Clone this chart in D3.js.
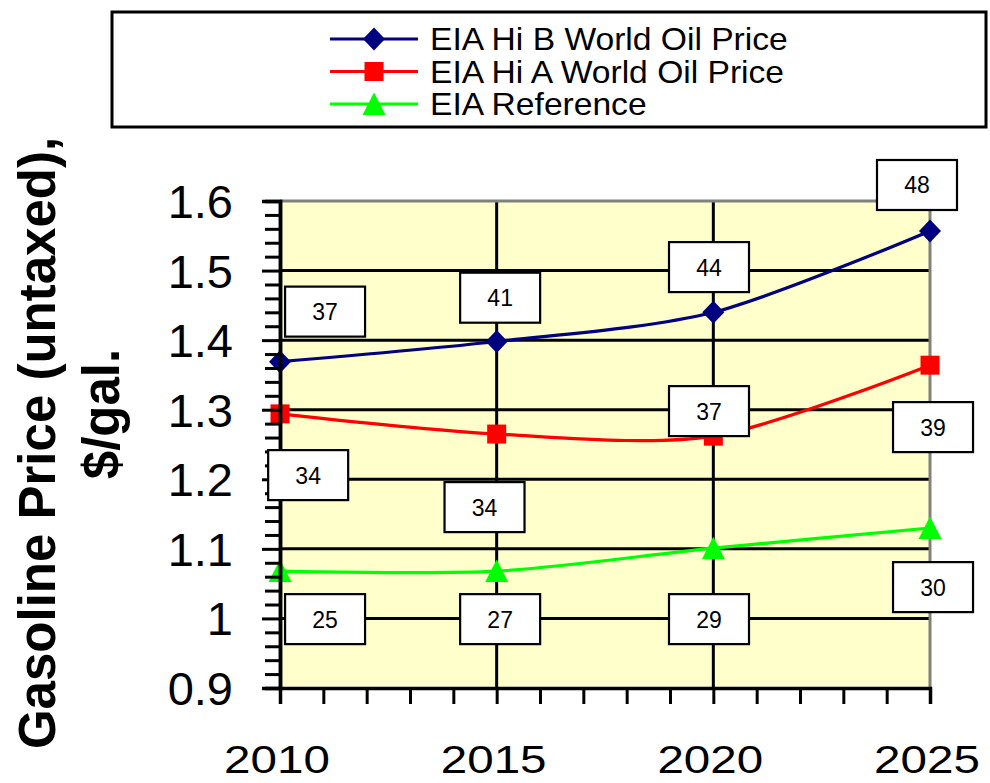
<!DOCTYPE html>
<html>
<head>
<meta charset="utf-8">
<script src="https://cdn.jsdelivr.net/npm/d3@7"></script>
<style>
  html, body { margin: 0; padding: 0; background: #ffffff; }
  svg { display: block; font-family: "Liberation Sans", Arial, sans-serif; }
</style>
</head>
<body>
<svg id="chart" width="990" height="783"></svg>
<script>
// ---------- data ----------
const years = [2010, 2015, 2020, 2025];
const seriesNames = ["EIA Hi B World Oil Price", "EIA Hi A World Oil Price", "EIA Reference"];
const hiB = [1.369, 1.398, 1.44, 1.557];
const hiA = [1.294, 1.265, 1.262, 1.364];
const ref = [1.068, 1.068, 1.101, 1.13];
// crude oil price labels ($/bbl) shown in boxes
const hiBLabels = ["37", "41", "44", "48"];
const hiALabels = ["34", "34", "37", "39"];
const refLabels = ["25", "27", "29", "30"];
// label anchor positions in data units (year, price)
const hiBLabelYear = [2011.04, 2015.08, 2019.9, 2024.7];
const hiBLabelVal  = [1.441, 1.461, 1.505, 1.623];
const hiALabelYear = [2010.65, 2014.72, 2019.9, 2025.07];
const hiALabelVal  = [1.206, 1.160, 1.298, 1.275];
const refLabelYear = [2011.04, 2015.08, 2019.9, 2025.07];
const refLabelVal  = [0.999, 0.999, 0.999, 1.045];
const yTickValues = [0.9, 1.0, 1.1, 1.2, 1.3, 1.4, 1.5, 1.6];
const yTickLabels = ["0.9", "1", "1.1", "1.2", "1.3", "1.4", "1.5", "1.6"];
const xTickLabels = ["2010", "2015", "2020", "2025"];

// ---------- setup ----------
const svg = d3.select("#chart");
const L = 280, R = 930, T = 201, B = 688;
const x = d3.scaleLinear().domain([2010, 2025]).range([L, R]);
const y = d3.scaleLinear().domain([0.9, 1.6]).range([B, T]);

// plot background
svg.append("rect").attr("x", L).attr("y", T).attr("width", R - L).attr("height", B - T)
  .attr("fill", "#FFFFCC");

// horizontal gridlines
svg.append("g").selectAll("line").data(yTickValues.slice(1, -1)).join("line")
  .attr("x1", L).attr("x2", R).attr("y1", d => y(d)).attr("y2", d => y(d))
  .attr("stroke", "#000").attr("stroke-width", 3);
// vertical gridlines
svg.append("g").selectAll("line").data(years.slice(1, -1)).join("line")
  .attr("x1", d => x(d)).attr("x2", d => x(d)).attr("y1", T).attr("y2", B)
  .attr("stroke", "#000").attr("stroke-width", 3);
// top & right border (gray)
svg.append("path").attr("d", `M${L},${T}H${R}V${B}`).attr("fill", "none")
  .attr("stroke", "#808080").attr("stroke-width", 3);

// ---------- lines ----------
const series = [
  { vals: hiB, color: "#000080", shape: "diamond", labels: hiBLabels, ly: hiBLabelYear, lv: hiBLabelVal },
  { vals: hiA, color: "#FF0000", shape: "square", labels: hiALabels, ly: hiALabelYear, lv: hiALabelVal },
  { vals: ref, color: "#00FF00", shape: "triangle", labels: refLabels, ly: refLabelYear, lv: refLabelVal }
];
const line = d3.line().x((d, i) => x(years[i])).y(d => y(d)).curve(d3.curveCardinal.tension(0.15));

function markerPath(shape) {
  if (shape === "diamond") return "M0,-11.5L11,0L0,11.5L-11,0Z";
  if (shape === "square") return "M-9.5,-9.5H9.5V9.5H-9.5Z";
  return "M0,-11.5L11.5,11L-11.5,11Z";
}

series.forEach(s => {
  svg.append("path").datum(s.vals).attr("d", line).attr("fill", "none")
    .attr("stroke", s.color).attr("stroke-width", 3.2);
});
series.forEach(s => {
  svg.append("g").selectAll("path").data(s.vals).join("path")
    .attr("transform", (d, i) => `translate(${x(years[i])},${y(d)})`)
    .attr("d", markerPath(s.shape)).attr("fill", s.color);
});

// ---------- axes ----------
const minorY = d3.range(0, 36).map(i => +(0.9 + i * 0.02).toFixed(2)).filter(v => Math.round(v * 100) % 10 !== 0);
const yMinor = svg.append("g").attr("transform", `translate(${L},0)`)
  .call(d3.axisLeft(y).tickValues(minorY).tickSize(15).tickFormat(""));
const yMajor = svg.append("g").attr("transform", `translate(${L},0)`)
  .call(d3.axisLeft(y).tickValues(yTickValues).tickSize(18).tickPadding(29)
    .tickFormat((d, i) => yTickLabels[i]));
[yMinor, yMajor].forEach(g => {
  g.select(".domain").attr("stroke", "#000").attr("stroke-width", 3.5);
  g.selectAll(".tick line").attr("stroke", "#000").attr("stroke-width", 3);
});
yMajor.selectAll(".tick text").attr("font-size", 47).attr("fill", "#000")
  .attr("font-family", "'Liberation Sans', Arial, sans-serif").attr("dy", "0.35em");

const xAx = svg.append("g").attr("transform", `translate(0,${B})`)
  .call(d3.axisBottom(x).tickValues(d3.range(2010, 2026)).tickSize(16).tickFormat(""));
xAx.select(".domain").attr("stroke", "#000").attr("stroke-width", 3.5);
xAx.selectAll(".tick line").attr("stroke", "#000").attr("stroke-width", 3);

svg.append("g").selectAll("text").data(xTickLabels).join("text")
  .attr("transform", (d, i) => `translate(${x(years[i]) - 3},773) scale(1.22,1)`)
  .attr("text-anchor", "middle").attr("font-size", 39).attr("fill", "#000").text(d => d);

// y title
svg.append("text").attr("transform", "translate(55,443) rotate(-90)")
  .attr("text-anchor", "middle").attr("font-size", 51).attr("font-weight", "bold")
  .text("Gasoline Price (untaxed),");
svg.append("text").attr("transform", "translate(119,414) rotate(-90)")
  .attr("text-anchor", "middle").attr("font-size", 51).attr("font-weight", "bold")
  .text("$/gal.");

// ---------- data label boxes ----------
series.forEach(s => {
  const g = svg.append("g").selectAll("g").data(s.labels).join("g")
    .attr("transform", (d, i) => `translate(${x(s.ly[i])},${y(s.lv[i])})`);
  g.append("rect").attr("x", -40).attr("y", -25).attr("width", 80).attr("height", 50)
    .attr("fill", "#fff").attr("stroke", "#000").attr("stroke-width", 2.2);
  g.append("text").attr("text-anchor", "middle").attr("y", 8.5).attr("font-size", 23)
    .attr("fill", "#000").text(d => d);
});

// ---------- legend ----------
svg.append("rect").attr("x", 112).attr("y", 12).attr("width", 874).attr("height", 115)
  .attr("fill", "#fff").attr("stroke", "#000").attr("stroke-width", 3);
const leg = svg.append("g").selectAll("g").data(series).join("g")
  .attr("transform", (d, i) => `translate(0,${39 + i * 32.5})`);
leg.append("line").attr("x1", 330).attr("x2", 418).attr("y1", 0).attr("y2", 0)
  .attr("stroke", d => d.color).attr("stroke-width", 3.2);
leg.append("path").attr("transform", "translate(374,0)").attr("d", d => markerPath(d.shape))
  .attr("fill", d => d.color);
leg.append("text").attr("transform", "translate(430,11) scale(1.2,1.1)")
  .attr("font-size", 28).attr("fill", "#000")
  .text((d, i) => seriesNames[i]);
</script>
</body>
</html>
